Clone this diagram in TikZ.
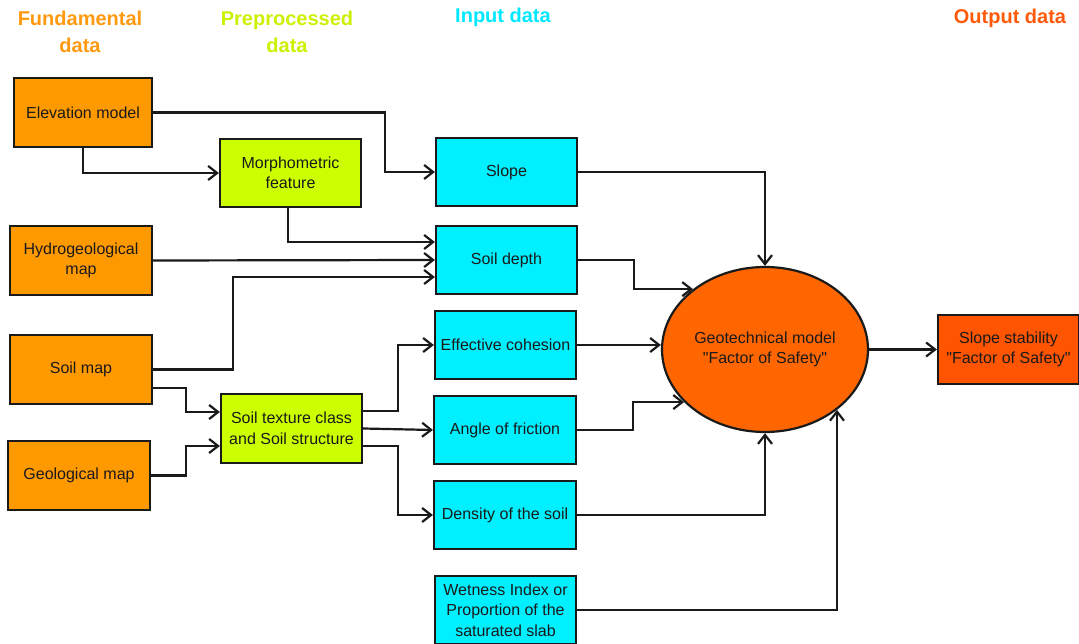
\documentclass[tikz,border=0pt]{standalone}
\usepackage{fontspec}
\setmainfont{Liberation Sans}
\usetikzlibrary{arrows.meta,shapes.geometric}

\definecolor{fundfill}{HTML}{FF9900}
\definecolor{prefill}{HTML}{CCFF00}
\definecolor{infill}{HTML}{00F0FF}
\definecolor{modelfill}{HTML}{FF6600}
\definecolor{outfill}{HTML}{FF5500}
\definecolor{ink}{HTML}{1A1A1A}
\definecolor{fundhead}{HTML}{FF9A10}
\definecolor{prehead}{HTML}{CCF000}
\definecolor{inhead}{HTML}{00E8FF}
\definecolor{outhead}{HTML}{FF5A0A}

\begin{document}
\begin{tikzpicture}[x=1pt,y=-1pt,
  box/.style={draw=ink, line width=2.2pt, rectangle, minimum height=69, minimum width=141,
    align=center, font=\fontsize{16}{20.5}\selectfont, text=ink, inner sep=2pt},
  fund/.style={box, fill=fundfill},
  prep/.style={box, fill=prefill},
  inp/.style={box, fill=infill},
  outp/.style={box, fill=outfill},
  model/.style={draw=ink, line width=2.2pt, ellipse, fill=modelfill, minimum width=206,
    minimum height=165, align=center, font=\fontsize{16}{20.5}\selectfont, text=ink, inner sep=0pt},
  arr/.style={draw=ink, line width=2.2pt, -{Straight Barb[length=9pt,width=14pt]}},
  head/.style={font=\fontsize{20}{27}\selectfont\bfseries, align=center}
]
\useasboundingbox (0,0) rectangle (1079,644);
\clip (0,0) rectangle (1079,644);

% column headings
\node[head, text=fundhead] (hfund) at (80,31.5) {Fundamental\\data};
\node[head, text=prehead] (hpre) at (287,31.5) {Preprocessed\\data};
\node[head, text=inhead] (hin) at (503,17) {Input data};
\node[head, text=outhead] (hout) at (1010,18) {Output data};

% fundamental data
\node[fund, minimum width=138] (elev) at (83,112.5) {Elevation model};
\node[fund, minimum width=142] (hydro) at (81,260.5) {Hydrogeological\\map};
\node[fund, minimum width=142] (soilmap) at (81,369.5) {Soil map};
\node[fund, minimum width=142] (geo) at (79,475.5) {Geological map};

% preprocessed data
\node[prep, minimum height=68] (morph) at (290.5,173) {Morphometric\\feature};
\node[prep] (texture) at (291.5,428.5) {Soil texture class\\and Soil structure};

% input data
\node[inp, minimum height=68] (slope) at (506.5,172) {Slope};
\node[inp, minimum height=68] (depth) at (506.5,260) {Soil depth};
\node[inp, minimum height=68] (cohesion) at (505.5,345) {Effective cohesion};
\node[inp, minimum height=68, minimum width=142] (friction) at (505,430) {Angle of friction};
\node[inp, minimum height=68, minimum width=142] (density) at (505,515) {Density of the soil};
\node[inp, minimum height=68] (wet) at (505.5,610) {Wetness Index or\\Proportion of the\\saturated slab};

% model and output
\node[model] (fos) at (765,349.5) {Geotechnical model\\\textquotedbl Factor of Safety\textquotedbl};
\node[outp] (stab) at (1008.5,349.5) {Slope stability\\\textquotedbl Factor of Safety\textquotedbl};

% fundamental -> preprocessed / input
\draw[arr] (elev.east) -| (385,140) |- (slope.west);
\draw[arr] (elev.south) |- (morph.west);
\draw[arr] (morph.south -| 288,0) |- (depth.west |- 0,242);
\draw[arr] (hydro.east) -- (depth.west);
\draw[arr] (soilmap.east) -| (233,320) |- (depth.west |- 0,277);
\draw[arr] (soilmap.east |- 0,388) -| (186,400) |- (texture.west |- 0,412);
\draw[arr] (geo.east) -| (186,460) |- (texture.west |- 0,446);

% preprocessed -> input
\draw[arr] (texture.east |- 0,411) -| (398,380) |- (cohesion.west);
\draw[arr] (texture.east) -- (friction.west);
\draw[arr] (texture.east |- 0,446) -| (398,480) |- (density.west);

% input -> model
\draw[arr] (slope.east) -| (fos.north);
\draw[arr] (depth.east) -| (634,275) |- (fos.140);
\draw[arr] (cohesion.east) -- (cohesion.east -| fos.west);
\draw[arr] (friction.east) -| (633,415) |- (fos.213);
\draw[arr] (density.east) -| (fos.south);
\draw[arr] (wet.east) -| (fos.-40);

% model -> output
\draw[arr] (fos.east) -- (stab.west);
\end{tikzpicture}
\end{document}
